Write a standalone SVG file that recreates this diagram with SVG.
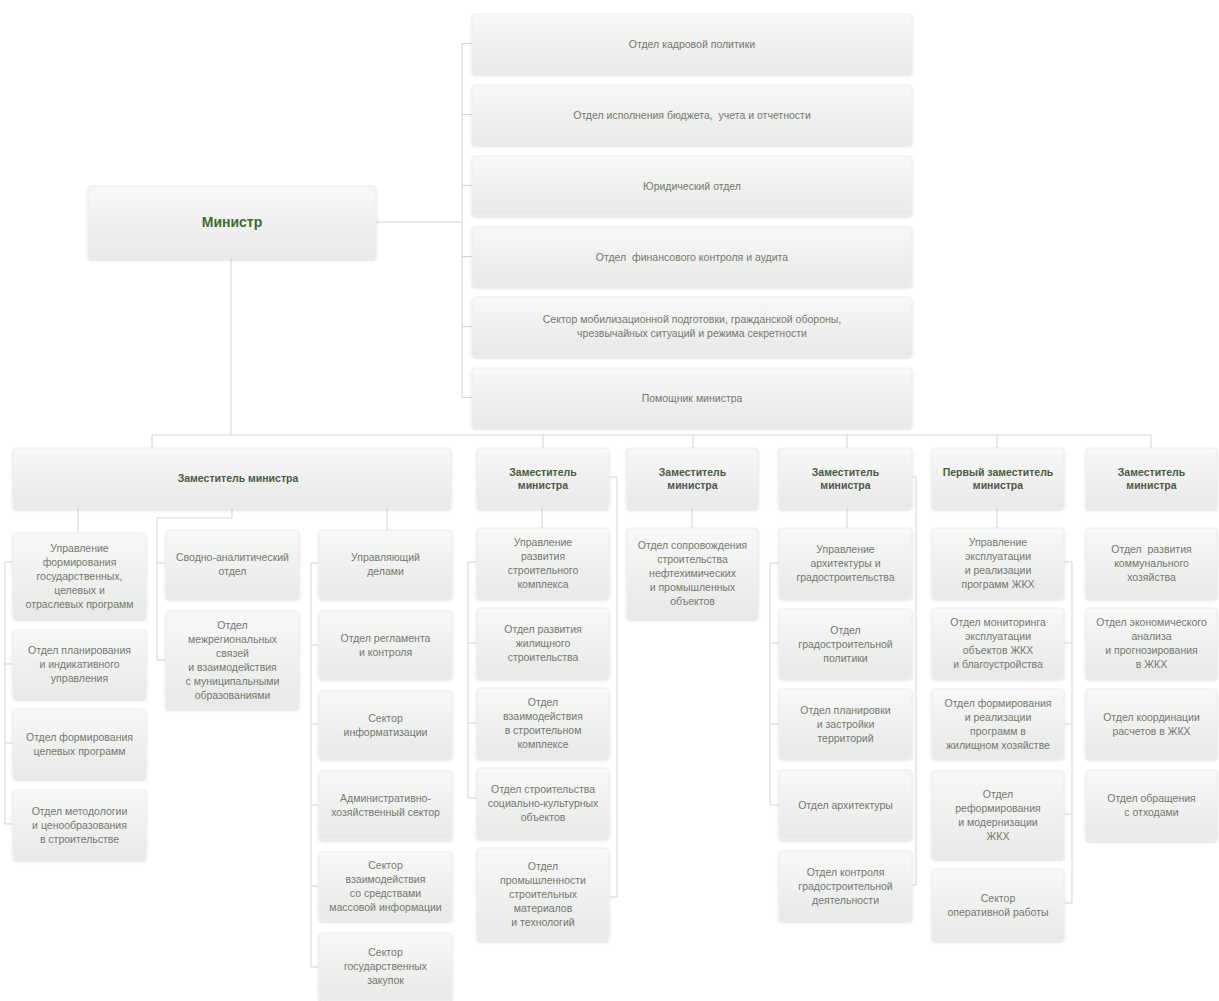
<svg xmlns="http://www.w3.org/2000/svg" width="1219" height="1001" viewBox="0 0 1219 1001">
<defs>
<linearGradient id="g" x1="0" y1="0" x2="0" y2="1">
<stop offset="0" stop-color="#f8f8f8"/>
<stop offset="1" stop-color="#e8e8e8"/>
</linearGradient>
<filter id="sh" x="-5%" y="-10%" width="110%" height="130%">
<feDropShadow dx="0" dy="2" stdDeviation="1.5" flood-color="#000" flood-opacity="0.13"/>
</filter>
<style>
.b{fill:url(#g);filter:url(#sh);stroke:#ececec;stroke-width:1}
.t{font-family:"Liberation Sans",Arial,sans-serif;font-size:10.5px;fill:#727a6e;text-anchor:middle}
.h{font-family:"Liberation Sans",Arial,sans-serif;font-size:10.5px;font-weight:bold;fill:#4a5a43;text-anchor:middle}
.m{font-family:"Liberation Sans",Arial,sans-serif;font-size:14px;font-weight:bold;fill:#3f6b32;text-anchor:middle}
.c{fill:none;stroke:#d4d4d4;stroke-width:1}
</style>
</defs>
<rect width="1219" height="1001" fill="#ffffff"/>

<g id="connectors" class="c">
<path d="M376 222H462M462 43V398M462 43.5H472M462 114.5H472M462 185.5H472M462 256.5H472M462 326.5H472M462 397.5H472"/>
<path d="M231 258V435M152 435H1151M152 435V448M543 435V448M693 435V448M847 435V448M997 435V448M1151 435V448"/>
<path d="M78 508V533M5 562V824M5 562H13M5 664H13M5 743H13M5 824H13"/>
<path d="M232 508V518H157V660M157 563H166M157 660H166"/>
<path d="M387 508V530M311 563V967M311 563H319M311 645H319M311 724H319M311 805H319M311 886H319M311 967H319"/>
<path d="M542 508V528M468 562V798M468 562H477M468 643H477M468 723H477M468 798H477M609 477H617V897H609"/>
<path d="M692 508V528"/>
<path d="M847 508V528M770 563V805M770 563H779M770 643H779M770 724H779M770 805H779M912 477H916V885H912"/>
<path d="M997 508V528M1072 562V903M1064 562H1072M1064 643H1072M1064 724H1072M1064 814H1072M1064 903H1072"/>
</g>

<g id="minister"><rect class="b" x="88" y="186" width="288" height="72" rx="3"/><text class="m" x="232" y="227">Министр</text></g>

<g id="top1"><rect class="b" x="472" y="14" width="440" height="59" rx="3"/><text class="t" x="692" y="47.5">Отдел кадровой политики</text></g>
<g id="top2"><rect class="b" x="472" y="85" width="440" height="59" rx="3"/><text class="t" x="692" y="118.5" xml:space="preserve">Отдел исполнения бюджета,  учета и отчетности</text></g>
<g id="top3"><rect class="b" x="472" y="156" width="440" height="59" rx="3"/><text class="t" x="692" y="189.5">Юридический отдел</text></g>
<g id="top4"><rect class="b" x="472" y="227" width="440" height="59" rx="3"/><text class="t" x="692" y="260.5" xml:space="preserve">Отдел  финансового контроля и аудита</text></g>
<g id="top5"><rect class="b" x="472" y="297" width="440" height="59" rx="3"/><text class="t" x="692" y="323"><tspan x="692">Сектор мобилизационной подготовки, гражданской обороны,</tspan><tspan x="692" dy="14">чрезвычайных ситуаций и режима секретности</tspan></text></g>
<g id="top6"><rect class="b" x="472" y="368" width="440" height="59" rx="3"/><text class="t" x="692" y="401.5">Помощник министра</text></g>

<g id="depA"><rect class="b" x="13" y="448" width="438" height="60" rx="3"/><text class="h" x="238" y="482">Заместитель министра</text></g>
<g id="depB"><rect class="b" x="477" y="448" width="132" height="60" rx="3"/><text class="h" x="543" y="475.5"><tspan x="543">Заместитель</tspan><tspan x="543" dy="13">министра</tspan></text></g>
<g id="depC"><rect class="b" x="627" y="448" width="131" height="60" rx="3"/><text class="h" x="692.5" y="475.5"><tspan x="692.5">Заместитель</tspan><tspan x="692.5" dy="13">министра</tspan></text></g>
<g id="depD"><rect class="b" x="779" y="448" width="133" height="60" rx="3"/><text class="h" x="845.5" y="475.5"><tspan x="845.5">Заместитель</tspan><tspan x="845.5" dy="13">министра</tspan></text></g>
<g id="depE"><rect class="b" x="932" y="448" width="132" height="60" rx="3"/><text class="h" x="998" y="475.5"><tspan x="998">Первый заместитель</tspan><tspan x="998" dy="13">министра</tspan></text></g>
<g id="depF"><rect class="b" x="1086" y="448" width="131" height="60" rx="3"/><text class="h" x="1151.5" y="475.5"><tspan x="1151.5">Заместитель</tspan><tspan x="1151.5" dy="13">министра</tspan></text></g>

<g id="a1"><rect class="b" x="13" y="533" width="133" height="85" rx="3"/><text class="t" y="551.5"><tspan x="79.5">Управление</tspan><tspan x="79.5" dy="14">формирования</tspan><tspan x="79.5" dy="14">государственных,</tspan><tspan x="79.5" dy="14">целевых и</tspan><tspan x="79.5" dy="14">отраслевых программ</tspan></text></g>
<g id="a2"><rect class="b" x="13" y="630" width="133" height="68" rx="3"/><text class="t" y="654"><tspan x="79.5">Отдел планирования</tspan><tspan x="79.5" dy="14">и индикативного</tspan><tspan x="79.5" dy="14">управления</tspan></text></g>
<g id="a3"><rect class="b" x="13" y="709" width="133" height="69" rx="3"/><text class="t" y="740.5"><tspan x="79.5">Отдел формирования</tspan><tspan x="79.5" dy="14">целевых программ</tspan></text></g>
<g id="a4"><rect class="b" x="13" y="790" width="133" height="69" rx="3"/><text class="t" y="814.5"><tspan x="79.5">Отдел методологии</tspan><tspan x="79.5" dy="14">и ценообразования</tspan><tspan x="79.5" dy="14">в строительстве</tspan></text></g>

<g id="a5"><rect class="b" x="166" y="530" width="133" height="68" rx="3"/><text class="t" y="561"><tspan x="232.5">Сводно-аналитический</tspan><tspan x="232.5" dy="14">отдел</tspan></text></g>
<g id="a6"><rect class="b" x="166" y="611" width="133" height="97" rx="3"/><text class="t" y="628.5"><tspan x="232.5">Отдел</tspan><tspan x="232.5" dy="14">межрегиональных</tspan><tspan x="232.5" dy="14">связей</tspan><tspan x="232.5" dy="14">и взаимодействия</tspan><tspan x="232.5" dy="14">с муниципальными</tspan><tspan x="232.5" dy="14">образованиями</tspan></text></g>

<g id="a7"><rect class="b" x="319" y="530" width="133" height="68" rx="3"/><text class="t" y="561"><tspan x="385.5">Управляющий</tspan><tspan x="385.5" dy="14">делами</tspan></text></g>
<g id="a8"><rect class="b" x="319" y="611" width="133" height="67" rx="3"/><text class="t" y="641.5"><tspan x="385.5">Отдел регламента</tspan><tspan x="385.5" dy="14">и контроля</tspan></text></g>
<g id="a9"><rect class="b" x="319" y="691" width="133" height="67" rx="3"/><text class="t" y="721.5"><tspan x="385.5">Сектор</tspan><tspan x="385.5" dy="14">информатизации</tspan></text></g>
<g id="a10"><rect class="b" x="319" y="771" width="133" height="68" rx="3"/><text class="t" y="802"><tspan x="385.5">Административно-</tspan><tspan x="385.5" dy="14">хозяйственный сектор</tspan></text></g>
<g id="a11"><rect class="b" x="319" y="852" width="133" height="68" rx="3"/><text class="t" y="869"><tspan x="385.5">Сектор</tspan><tspan x="385.5" dy="14">взаимодействия</tspan><tspan x="385.5" dy="14">со средствами</tspan><tspan x="385.5" dy="14">массовой информации</tspan></text></g>
<g id="a12"><rect class="b" x="319" y="933" width="133" height="67" rx="3"/><text class="t" y="955.5"><tspan x="385.5">Сектор</tspan><tspan x="385.5" dy="14">государственных</tspan><tspan x="385.5" dy="14">закупок</tspan></text></g>

<g id="b1"><rect class="b" x="477" y="528" width="132" height="70" rx="3"/><text class="t" y="546"><tspan x="543">Управление</tspan><tspan x="543" dy="14">развития</tspan><tspan x="543" dy="14">строительного</tspan><tspan x="543" dy="14">комплекса</tspan></text></g>
<g id="b2"><rect class="b" x="477" y="608" width="132" height="70" rx="3"/><text class="t" y="633"><tspan x="543">Отдел развития</tspan><tspan x="543" dy="14">жилищного</tspan><tspan x="543" dy="14">строительства</tspan></text></g>
<g id="b3"><rect class="b" x="477" y="688" width="132" height="70" rx="3"/><text class="t" y="706"><tspan x="543">Отдел</tspan><tspan x="543" dy="14">взаимодействия</tspan><tspan x="543" dy="14">в строительном</tspan><tspan x="543" dy="14">комплексе</tspan></text></g>
<g id="b4"><rect class="b" x="477" y="768" width="132" height="70" rx="3"/><text class="t" y="793"><tspan x="543">Отдел строительства</tspan><tspan x="543" dy="14">социально-культурных</tspan><tspan x="543" dy="14">объектов</tspan></text></g>
<g id="b5"><rect class="b" x="477" y="848" width="132" height="92" rx="3"/><text class="t" y="870"><tspan x="543">Отдел</tspan><tspan x="543" dy="14">промышленности</tspan><tspan x="543" dy="14">строительных</tspan><tspan x="543" dy="14">материалов</tspan><tspan x="543" dy="14">и технологий</tspan></text></g>

<g id="c1"><rect class="b" x="627" y="528" width="131" height="90" rx="3"/><text class="t" y="549"><tspan x="692.5">Отдел сопровождения</tspan><tspan x="692.5" dy="14">строительства</tspan><tspan x="692.5" dy="14">нефтехимических</tspan><tspan x="692.5" dy="14">и промышленных</tspan><tspan x="692.5" dy="14">объектов</tspan></text></g>

<g id="d1"><rect class="b" x="779" y="528" width="133" height="70" rx="3"/><text class="t" y="553"><tspan x="845.5">Управление</tspan><tspan x="845.5" dy="14">архитектуры и</tspan><tspan x="845.5" dy="14">градостроительства</tspan></text></g>
<g id="d2"><rect class="b" x="779" y="609" width="133" height="69" rx="3"/><text class="t" y="633.5"><tspan x="845.5">Отдел</tspan><tspan x="845.5" dy="14">градостроительной</tspan><tspan x="845.5" dy="14">политики</tspan></text></g>
<g id="d3"><rect class="b" x="779" y="689" width="133" height="69" rx="3"/><text class="t" y="713.5"><tspan x="845.5">Отдел планировки</tspan><tspan x="845.5" dy="14">и застройки</tspan><tspan x="845.5" dy="14">территорий</tspan></text></g>
<g id="d4"><rect class="b" x="779" y="770" width="133" height="69" rx="3"/><text class="t" x="845.5" y="808.5">Отдел архитектуры</text></g>
<g id="d5"><rect class="b" x="779" y="851" width="133" height="69" rx="3"/><text class="t" y="875.5"><tspan x="845.5">Отдел контроля</tspan><tspan x="845.5" dy="14">градостроительной</tspan><tspan x="845.5" dy="14">деятельности</tspan></text></g>

<g id="e1"><rect class="b" x="932" y="528" width="132" height="70" rx="3"/><text class="t" y="546"><tspan x="998">Управление</tspan><tspan x="998" dy="14">эксплуатации</tspan><tspan x="998" dy="14">и реализации</tspan><tspan x="998" dy="14">программ ЖКХ</tspan></text></g>
<g id="e2"><rect class="b" x="932" y="608" width="132" height="70" rx="3"/><text class="t" y="626"><tspan x="998">Отдел мониторинга</tspan><tspan x="998" dy="14">эксплуатации</tspan><tspan x="998" dy="14">объектов ЖКХ</tspan><tspan x="998" dy="14">и благоустройства</tspan></text></g>
<g id="e3"><rect class="b" x="932" y="689" width="132" height="69" rx="3"/><text class="t" y="706.5"><tspan x="998">Отдел формирования</tspan><tspan x="998" dy="14">и реализации</tspan><tspan x="998" dy="14">программ в</tspan><tspan x="998" dy="14">жилищном хозяйстве</tspan></text></g>
<g id="e4"><rect class="b" x="932" y="771" width="132" height="87" rx="3"/><text class="t" y="797.5"><tspan x="998">Отдел</tspan><tspan x="998" dy="14">реформирования</tspan><tspan x="998" dy="14">и модернизации</tspan><tspan x="998" dy="14">ЖКХ</tspan></text></g>
<g id="e5"><rect class="b" x="932" y="869" width="132" height="71" rx="3"/><text class="t" y="901.5"><tspan x="998">Сектор</tspan><tspan x="998" dy="14">оперативной работы</tspan></text></g>

<g id="f1"><rect class="b" x="1086" y="528" width="131" height="70" rx="3"/><text class="t" y="553" xml:space="preserve"><tspan x="1151.5">Отдел  развития</tspan><tspan x="1151.5" dy="14">коммунального</tspan><tspan x="1151.5" dy="14">хозяйства</tspan></text></g>
<g id="f2"><rect class="b" x="1086" y="608" width="131" height="70" rx="3"/><text class="t" y="626"><tspan x="1151.5">Отдел экономического</tspan><tspan x="1151.5" dy="14">анализа</tspan><tspan x="1151.5" dy="14">и прогнозирования</tspan><tspan x="1151.5" dy="14">в ЖКХ</tspan></text></g>
<g id="f3"><rect class="b" x="1086" y="689" width="131" height="69" rx="3"/><text class="t" y="720.5"><tspan x="1151.5">Отдел координации</tspan><tspan x="1151.5" dy="14">расчетов в ЖКХ</tspan></text></g>
<g id="f4"><rect class="b" x="1086" y="770" width="131" height="70" rx="3"/><text class="t" y="802"><tspan x="1151.5">Отдел обращения</tspan><tspan x="1151.5" dy="14">с отходами</tspan></text></g>
</svg>
